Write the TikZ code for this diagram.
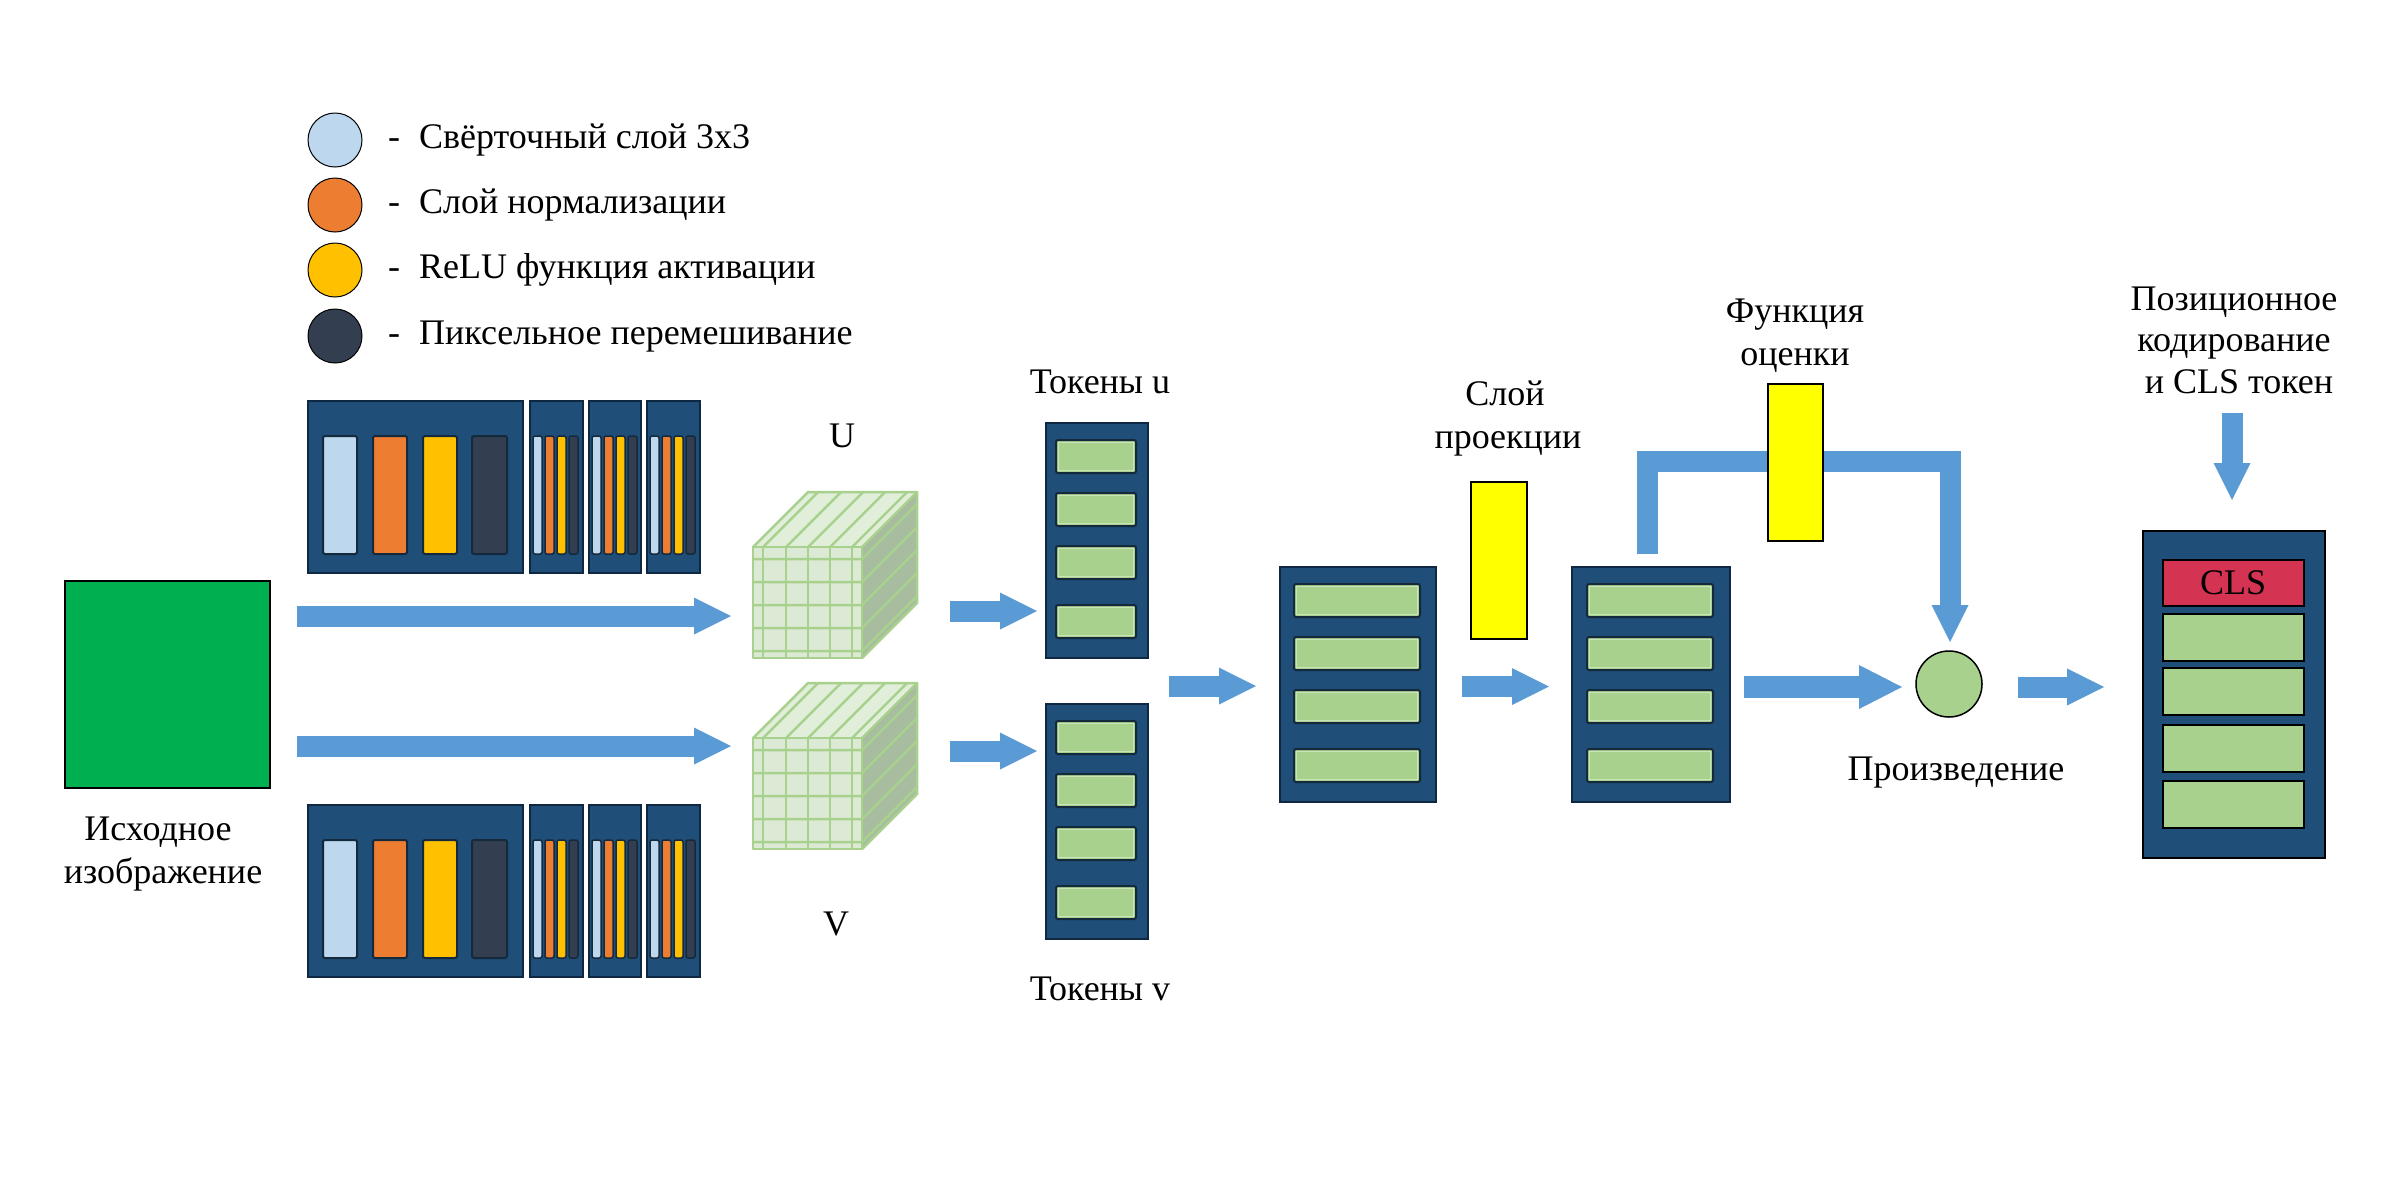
\documentclass[tikz,border=0pt]{standalone}
\usepackage{fontspec}
\setmainfont{Liberation Serif}
\usetikzlibrary{arrows.meta}
\definecolor{boxblue}{HTML}{1F4E79}
\definecolor{boxedge}{HTML}{0E2841}
\definecolor{baredge}{HTML}{15293D}
\definecolor{arrowblue}{HTML}{5B9BD5}
\definecolor{tokgreen}{HTML}{A9D18E}
\definecolor{tokhigh}{HTML}{C9E4B6}
\definecolor{imggreen}{HTML}{00B050}
\definecolor{convlb}{HTML}{BDD7EE}
\definecolor{convor}{HTML}{ED7D31}
\definecolor{convye}{HTML}{FFC000}
\definecolor{convdk}{HTML}{333F50}
\definecolor{pureyellow}{HTML}{FFFF00}
\definecolor{clsred}{HTML}{D43352}
\definecolor{cubefront}{HTML}{DCEAD5}
\definecolor{cubetop}{HTML}{E1EEDA}
\definecolor{cuberight}{HTML}{A8BCA0}
\definecolor{cubeline}{HTML}{A9D18E}
\newcommand\lblfont{\fontsize{36}{43}\selectfont}
\tikzset{
  lbl/.style={font=\lblfont, inner sep=0pt, anchor=base},
  barrow/.style={draw=arrowblue, line width=21pt, line join=miter,
    -{Triangle[length=37pt,width=37pt,line width=0pt]}},
  bigarrow/.style={draw=arrowblue, line width=22pt,
    -{Triangle[length=43pt,width=44pt,line width=0pt]}},
  container/.style={draw=boxedge, fill=boxblue, line width=1.5pt, inner sep=0pt, anchor=north west},
  finalbox/.style={draw=black, fill=boxblue, line width=1.5pt, inner sep=0pt, anchor=north west},
  cbar/.style={draw=baredge, line width=2pt, rounded corners=2pt},
  tokbar/.style={draw=baredge, fill=tokgreen, line width=2pt, rounded corners=2pt},
  tokhl/.style={draw=tokhigh, line width=1pt},
  flatbar/.style={draw=black, fill=tokgreen, line width=1.5pt},
  yelrect/.style={draw=black, fill=pureyellow, line width=1.5pt, inner sep=0pt},
  legcirc/.style={circle, draw=black, line width=1pt, minimum size=54pt, inner sep=0pt},
  cubeln/.style={draw=cubeline, line width=2.5pt},
}
% conv block: #1 name prefix, #2 top y
\newcommand\convblk[2]{%
  \node[container, minimum width=215pt, minimum height=172pt] (#1big) at (307,#2) {};
  \draw[cbar, fill=convlb] (323,#2+36) rectangle (357,#2+154);
  \draw[cbar, fill=convor] (373,#2+36) rectangle (407,#2+154);
  \draw[cbar, fill=convye] (423,#2+36) rectangle (457,#2+154);
  \draw[cbar, fill=convdk] (472,#2+36) rectangle (507,#2+154);
  \foreach \L/\W [count=\i] in {529/53,588/52,646/53}{
    \node[container, minimum width=\W pt, minimum height=172pt] (#1s\i) at (\L,#2) {};
    \draw[cbar, line width=1.5pt, fill=convlb] (\L+4,#2+36) rectangle (\L+13,#2+154);
    \draw[cbar, line width=1.5pt, fill=convor] (\L+16,#2+36) rectangle (\L+25,#2+154);
    \draw[cbar, line width=1.5pt, fill=convye] (\L+28,#2+36) rectangle (\L+37,#2+154);
    \draw[cbar, line width=1.5pt, fill=convdk] (\L+40,#2+36) rectangle (\L+49,#2+154);
  }
}
% cube: #1 top y of the front face
\newcommand\mycube[1]{%
  \fill[cubefront] (753,#1) rectangle (862,#1+111);
  \fill[cubetop] (753,#1) -- (808,#1-55) -- (917,#1-55) -- (862,#1) -- cycle;
  \fill[cuberight] (862,#1) -- (917,#1-55) -- (917,#1+56) -- (862,#1+111) -- cycle;
  \foreach \gx in {763,786,808,830,852}{
    \draw[cubeln] (\gx,#1) -- (\gx,#1+111);
    \draw[cubeln] (\gx,#1) -- (\gx+55,#1-55);
  }
  \foreach \gy in {12,35,58,81,104}{
    \draw[cubeln] (753,#1+\gy) -- (862,#1+\gy) -- (917,#1+\gy-55);
  }
  \draw[cubeln, line join=round] (753,#1) rectangle (862,#1+111);
  \draw[cubeln, line join=round] (753,#1) -- (808,#1-55) -- (917,#1-55) -- (917,#1+56) -- (862,#1+111);
  \draw[cubeln] (862,#1) -- (917,#1-55);
}
% token box: #1 name, #2 left x, #3 width, #4 top y, #5 bar inset
\newcommand\tokbox[5]{%
  \node[container, minimum width=#3 pt, minimum height=235pt] (#1) at (#2,#4) {};
  \foreach \o in {18,71,124,183}{
    \draw[tokbar] (#2+#5,#4+\o) rectangle (#2+#3-#5,#4+\o+33);
    \draw[tokhl] (#2+#5+2.5,#4+\o+2.5) rectangle (#2+#3-#5-2.5,#4+\o+30.5);
  }
}
\begin{document}
\begin{tikzpicture}[x=1pt,y=-1pt]
\useasboundingbox (0,0) rectangle (2400,1200);
\fill[white] (0,0) rectangle (2400,1200);

% legend
\node[legcirc, fill=convlb] (leg1) at (335,140) {};
\node[legcirc, fill=convor] (leg2) at (335,205) {};
\node[legcirc, fill=convye] (leg3) at (335,270) {};
\node[legcirc, fill=convdk] (leg4) at (335,336) {};
\foreach \yy/\tt [count=\i] in {148/{Свёрточный слой 3x3},213/{Слой нормализации},278/{ReLU функция активации},344/{Пиксельное перемешивание}}{
  \node[lbl] (legd\i) at (394,\yy) {-};
  \node[lbl, anchor=base west] (legt\i) at (419,\yy) {\tt};
}

% input image
\node[draw=black, fill=imggreen, line width=1.5pt, minimum width=205pt, minimum height=207pt, inner sep=0pt] (img) at (167.5,684.5) {};
\node[lbl] (imglbl1) at (158,840) {Исходное};
\node[lbl] (imglbl2) at (163,883) {изображение};

% conv blocks
\convblk{ctop}{400}
\convblk{cbot}{804}

% arrows image -> cubes
\coordinate (a1s) at (297,616); \coordinate (a1e) at (731,616);
\coordinate (a2s) at (297,746); \coordinate (a2e) at (731,746);
\draw[barrow] (a1s) -- (a1e);
\draw[barrow] (a2s) -- (a2e);

% cubes
\mycube{547}
\mycube{738}
\node[lbl] (ulbl) at (842,447) {U};
\node[lbl] (vlbl) at (836,935) {V};

% arrows cubes -> tokens
\coordinate (a3s) at (950,611); \coordinate (a3e) at (1037,611);
\coordinate (a4s) at (950,751); \coordinate (a4e) at (1037,751);
\draw[barrow] (a3s) -- (a3e);
\draw[barrow] (a4s) -- (a4e);

% tokens
\tokbox{toku}{1045}{102}{422}{11}
\tokbox{tokv}{1045}{102}{703}{11}
\node[lbl] (tokulbl) at (1100,393) {Токены u};
\node[lbl] (tokvlbl) at (1100,1000) {Токены v};

% merge arrow
\coordinate (a5s) at (1169,686); \coordinate (a5e) at (1256,686);
\draw[barrow] (a5s) -- (a5e);

% middle box
\tokbox{midbox}{1279}{156}{566}{15}

% projection
\node[yelrect, minimum width=56pt, minimum height=157pt] (proj) at (1499,560.5) {};
\node[lbl] (projlbl1) at (1505,405) {Слой};
\node[lbl] (projlbl2) at (1508,448) {проекции};
\coordinate (a6s) at (1462,686.5); \coordinate (a6e) at (1549,686.5);
\draw[barrow] (a6s) -- (a6e);

% box 2
\tokbox{boxtwo}{1571}{158}{566}{16}

% bent arrow to product
\coordinate (b1) at (1647,554);
\coordinate (b2) at (1647,461.5);
\coordinate (b3) at (1950,461.5);
\coordinate (b4) at (1950,642);
\draw[barrow] (b1) -- (b2) -- (b3) -- (b4);

% score function
\node[yelrect, minimum width=55pt, minimum height=157pt] (score) at (1795.5,462.5) {};
\node[lbl] (scorelbl1) at (1795,322) {Функция};
\node[lbl] (scorelbl2) at (1795,365) {оценки};

% product
\coordinate (a7s) at (1744,687); \coordinate (a7e) at (1902,687);
\draw[bigarrow] (a7s) -- (a7e);
\node[circle, draw=black, fill=tokgreen, line width=1.5pt, minimum size=66pt, inner sep=0pt] (prod) at (1949,684) {};
\node[lbl] (prodlbl) at (1956,780) {Произведение};

% to final
\coordinate (a9s) at (2018,687); \coordinate (a9e) at (2104,687);
\draw[barrow] (a9s) -- (a9e);

% final box
\node[finalbox, minimum width=182pt, minimum height=327pt] (final) at (2142,530) {};
\node[draw=black, fill=clsred, line width=1.5pt, minimum width=141pt, minimum height=46pt, inner sep=0pt] (cls) at (2233.5,583) {};
\node[lbl] (clstext) at (2233,594) {CLS};
\foreach \ya/\yb in {614/661,668/715,725/772,781/828}{
  \draw[flatbar] (2163,\ya) rectangle (2304,\yb);
}
\node[lbl] (poslbl1) at (2234,310) {Позиционное};
\node[lbl] (poslbl2) at (2234,351) {кодирование};
\node[lbl] (poslbl3) at (2239,393) {и CLS токен};
\coordinate (a10s) at (2232,413); \coordinate (a10e) at (2232,500);
\draw[barrow] (a10s) -- (a10e);
\end{tikzpicture}
\end{document}
